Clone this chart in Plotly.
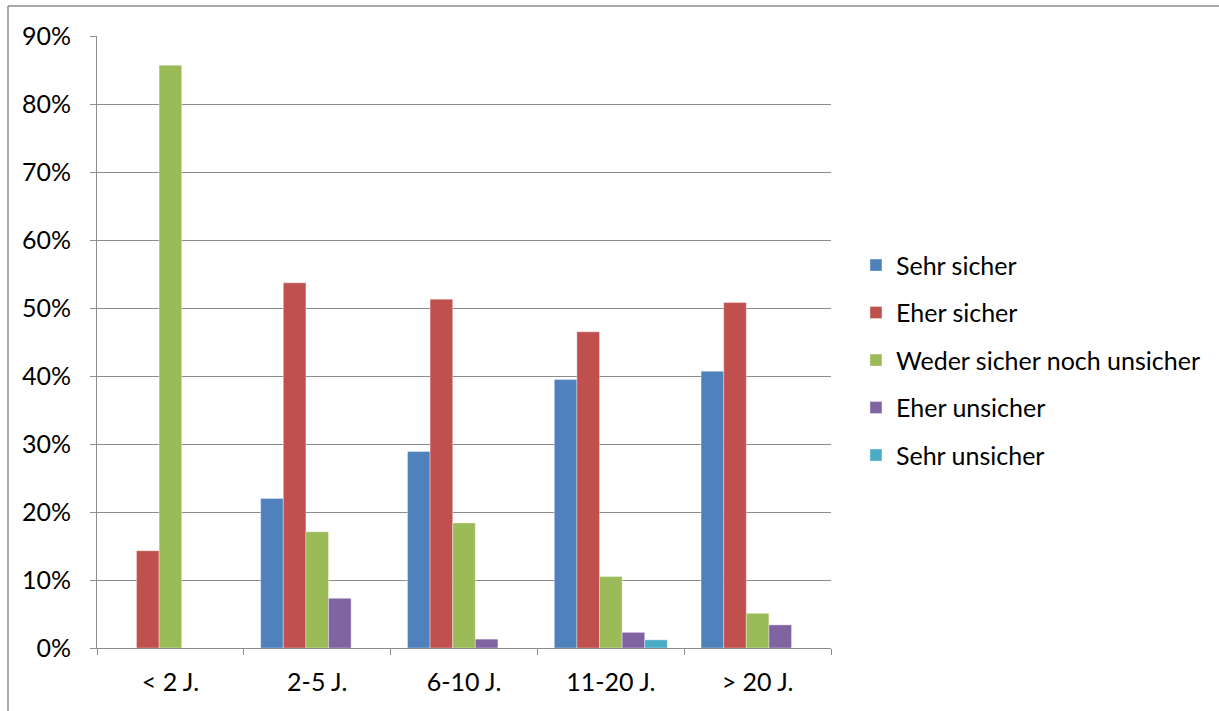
import plotly.graph_objects as go

categories = ["< 2 J.", "2-5 J.", "6-10 J.", "11-20 J.", "> 20 J."]
series_names = ["Sehr sicher", "Eher sicher", "Weder sicher noch unsicher", "Eher unsicher", "Sehr unsicher"]
sehr_sicher = [0.0, 0.220, 0.289, 0.395, 0.407]
eher_sicher = [0.143, 0.537, 0.513, 0.465, 0.508]
weder = [0.857, 0.171, 0.184, 0.105, 0.051]
eher_unsicher = [0.0, 0.073, 0.013, 0.023, 0.034]
sehr_unsicher = [0.0, 0.0, 0.0, 0.012, 0.0]
colors = ["#4F81BD", "#C0504D", "#9BBB59", "#8064A2", "#4BACC6"]
y_ticks = [0, 0.1, 0.2, 0.3, 0.4, 0.5, 0.6, 0.7, 0.8, 0.9]
y_labels = ["0%", "10%", "20%", "30%", "40%", "50%", "60%", "70%", "80%", "90%"]

values = [sehr_sicher, eher_sicher, weder, eher_unsicher, sehr_unsicher]

W, H = 1219, 711
L, R, T, B = 97, 831, 36, 648

fig = go.Figure()
for i, (name, vals, col) in enumerate(zip(series_names, values, colors)):
    fig.add_trace(go.Bar(
        x=categories, y=vals, name=name,
        marker=dict(color=col, line=dict(color="rgba(255,255,255,0.6)", width=0.6)),
        legendgroup=f"g{i}",
    ))

gray = "#8C8C8C"
font = "Lato, Carlito, sans-serif"
fs = 25
fig.update_layout(
    width=W, height=H,
    margin=dict(l=L, r=W - R, t=T, b=H - B, pad=0),
    paper_bgcolor="white", plot_bgcolor="white",
    barmode="group", bargap=0.23, bargroupgap=0,
    font=dict(family=font, size=fs, color="#000000"),
    showlegend=True,
    legend=dict(
        x=1.034, y=0.47, xanchor="left", yanchor="middle",
        font=dict(family=font, size=fs, color="#000000"),
        tracegroupgap=12, bgcolor="rgba(0,0,0,0)",
    ),
    xaxis=dict(
        showline=True, linecolor=gray, linewidth=1,
        ticks="outside", tickson="boundaries", ticklen=6, tickcolor=gray,
        showgrid=False, tickfont=dict(size=fs), ticklabelstandoff=12,
    ),
    yaxis=dict(
        range=[0, 0.9], tickvals=y_ticks, ticktext=y_labels,
        showline=True, linecolor=gray, linewidth=1,
        ticks="outside", ticklen=6, tickcolor=gray,
        showgrid=True, gridcolor=gray, gridwidth=1,
        zeroline=False, tickfont=dict(size=fs), ticklabelstandoff=14,
    ),
)

pw, ph = R - L, B - T
def px_x(x):
    return (x - L) / pw
def px_y(y):
    return (B - y) / ph

fig.add_shape(type="line", xref="paper", yref="paper",
              x0=px_x(8), x1=px_x(1230), y0=px_y(6), y1=px_y(6),
              line=dict(color=gray, width=1.5))
fig.add_shape(type="line", xref="paper", yref="paper",
              x0=px_x(8), x1=px_x(8), y0=px_y(6), y1=px_y(720),
              line=dict(color=gray, width=1.5))

fig.write_html("out.html")
